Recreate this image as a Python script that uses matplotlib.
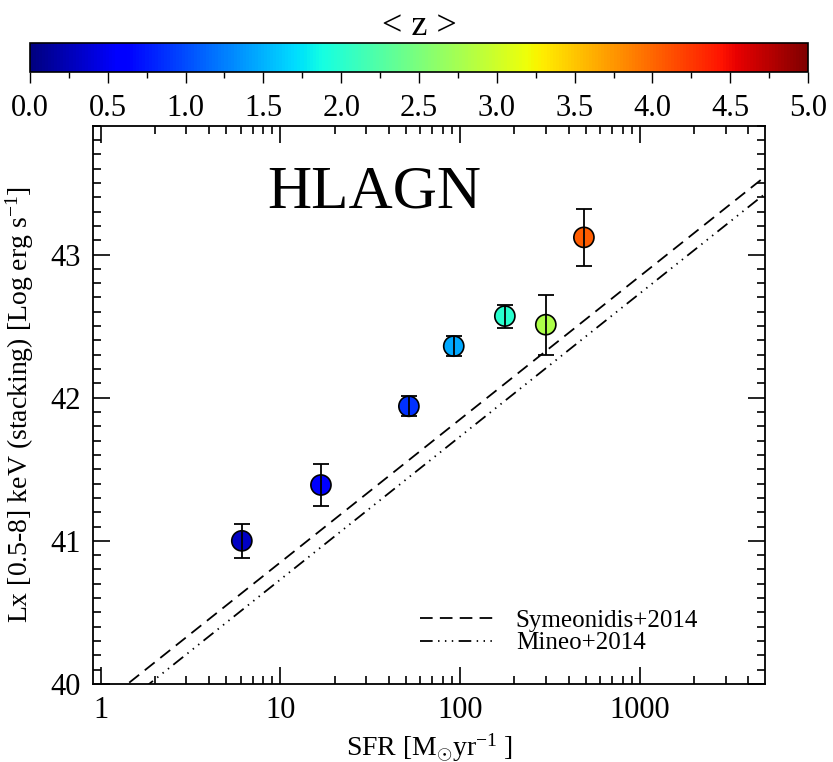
import numpy as np
import matplotlib
matplotlib.use("Agg")
from matplotlib import pyplot as plt
from matplotlib import cm, colors
from matplotlib.ticker import MultipleLocator, FixedLocator, NullFormatter

plt.rcParams['font.family'] = ['Liberation Serif', 'DejaVu Serif']
plt.rcParams['mathtext.fontset'] = 'custom'
plt.rcParams['mathtext.rm'] = 'Liberation Serif'
plt.rcParams['mathtext.it'] = 'Liberation Serif:italic'

# stacked HLAGN bins
sfr = [6.1, 16.8, 51.8, 92.0, 177.0, 299.0, 487.0]
lx = [41.00, 41.39, 41.94, 42.36, 42.57, 42.51, 43.12]
lx_err = [0.12, 0.15, 0.07, 0.07, 0.08, 0.21, 0.20]
z_mean = [0.30, 0.60, 0.87, 1.45, 2.00, 2.80, 4.05]

# literature relations, log Lx = log SFR + c
relation_names = ["Symeonidis+2014", "Mineo+2014"]
relation_const = [39.85, 39.73]

fig = plt.figure(figsize=(8.33, 7.62), dpi=100)
ax = fig.add_axes([0.1116, 0.1024, 0.8068, 0.7326])

norm = colors.Normalize(vmin=0, vmax=5)
cmap = plt.get_cmap('jet')

sfr_line = np.logspace(-0.1, 3.75, 200)
styles = [(0, (7, 4)), (0, (7, 3, 0.8, 3, 0.8, 3, 0.8, 3))]
for name, c, ls in zip(relation_names, relation_const, styles):
    ax.plot(sfr_line, np.log10(sfr_line) + c, color='k', ls=ls, lw=1.3, label=name)

ax.scatter(sfr, lx, s=210, c=z_mean, cmap=cmap, norm=norm,
           edgecolors='k', linewidths=1.2, zorder=3)
ax.errorbar(sfr, lx, yerr=lx_err, fmt='none', ecolor='k', elinewidth=1.3,
            capsize=6, capthick=1.3, zorder=4)

ax.set_xscale('log')
ax.set_xlim(0.907, 4950)
ax.set_ylim(40, 43.9)
ax.xaxis.set_major_locator(FixedLocator([1, 10, 100, 1000]))
ax.set_xticklabels(['1', '10', '100', '1000'])
ax.xaxis.set_minor_formatter(NullFormatter())
ax.yaxis.set_major_locator(MultipleLocator(1))
ax.yaxis.set_minor_locator(MultipleLocator(0.1))
ax.tick_params(which='both', direction='in', top=True, right=True, labelsize=22, width=1.2)
ax.tick_params(which='major', length=12, pad=9)
ax.tick_params(which='minor', length=6)
for sp in ax.spines.values():
    sp.set_linewidth(1.3)

ax.set_xlabel(r"SFR [M$_{\odot}$yr$^{-1}$ ]", fontsize=20, labelpad=4)
ax.set_ylabel(r"Lx [0.5-8] keV (stacking) [Log erg s$^{-1}$]", fontsize=20, labelpad=10)

ax.text(0.26, 0.88, "HLAGN", transform=ax.transAxes, fontsize=44, ha='left', va='center')

ax.legend(loc='upper left', bbox_to_anchor=(0.46, 0.165), frameon=False, fontsize=18,
          handlelength=3.1, handletextpad=0.75, labelspacing=0.0, borderpad=0.2)

# colour bar on top
cax = fig.add_axes([0.036, 0.9055, 0.934, 0.038])
cb = fig.colorbar(cm.ScalarMappable(norm=norm, cmap=cmap), cax=cax, orientation='horizontal')
cb.set_ticks(np.arange(0, 5.01, 0.5))
cb.set_ticklabels(["%.1f" % v for v in np.arange(0, 5.01, 0.5)])
cax.xaxis.set_minor_locator(MultipleLocator(0.25))
cax.tick_params(which='both', direction='out', labelsize=22, width=1.0, pad=8)
cax.tick_params(which='major', length=8)
cax.tick_params(which='minor', length=4)
cb.outline.set_linewidth(1.2)
cax.set_title("< z >", fontsize=26, pad=6)

plt.savefig("out.png", dpi=100)
